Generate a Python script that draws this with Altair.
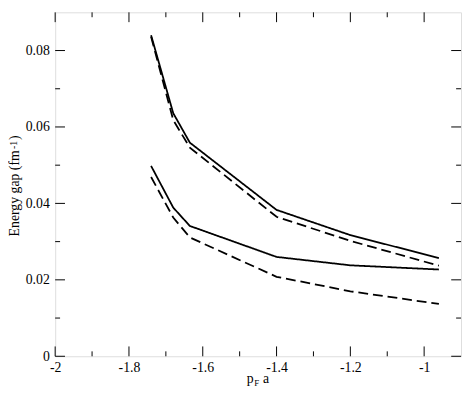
import altair as alt
import pandas as pd

# ---- data ----
x_pts = [-1.74, -1.68, -1.635, -1.4, -1.2, -0.96]
upper_solid = [0.0840, 0.0636, 0.0559, 0.0383, 0.0317, 0.0257]
upper_dashed = [0.0836, 0.0618, 0.0546, 0.0365, 0.0302, 0.0237]
lower_solid = [0.0498, 0.0389, 0.0341, 0.0260, 0.0238, 0.0227]
lower_dashed = [0.0469, 0.0363, 0.0311, 0.0208, 0.0170, 0.0137]

x_major = [-2.0, -1.8, -1.6, -1.4, -1.2, -1.0]
x_minor = [-1.9, -1.7, -1.5, -1.3, -1.1]
y_major = [0.0, 0.02, 0.04, 0.06, 0.08]
y_minor = [0.01, 0.03, 0.05, 0.07]

y_title_main = ["Energy gap (fm"]
y_title_sup = ["-1"]
y_title_end = [")"]
x_title_p = ["p"]
x_title_sub = ["F"]
x_title_a = ["a"]

# ---- layout ----
W, H = 413, 350
FONT = "'Liberation Serif', 'Times New Roman', Times, serif"

rows = []
for name, style, ys in [
    ("upper_solid", "solid", upper_solid),
    ("upper_dashed", "dashed", upper_dashed),
    ("lower_solid", "solid", lower_solid),
    ("lower_dashed", "dashed", lower_dashed),
]:
    for xv, yv in zip(x_pts, ys):
        rows.append({"x": xv, "y": yv, "curve": name, "style": style})
df = pd.DataFrame(rows)

xs = alt.Scale(domain=[-2.0, -0.9], nice=False, zero=False)
ys_ = alt.Scale(domain=[0.0, 0.09], nice=False, zero=False)

ax_x = alt.Axis(values=x_major, labelExpr="'' + datum.value", ticks=False,
                domain=False, grid=False, labelFont=FONT, labelFontSize=14,
                labelColor="black", labelPadding=4, labelFlush=False, title=None)
ax_y = alt.Axis(values=y_major, labelExpr="'' + datum.value", ticks=False,
                domain=False, grid=False, labelFont=FONT, labelFontSize=14,
                labelColor="black", labelPadding=6, labelFlush=False, title=None)

lines = alt.Chart(df).mark_line(color="black", strokeWidth=1.8).encode(
    x=alt.X("x:Q", scale=xs, axis=ax_x),
    y=alt.Y("y:Q", scale=ys_, axis=ax_y),
    detail="curve:N",
    strokeDash=alt.StrokeDash("style:N", scale=alt.Scale(domain=["solid", "dashed"],
                                                        range=[[1, 0], [10, 5]]),
                              legend=None),
)

def xticks(vals, length):
    d = pd.DataFrame({"x": vals})
    bottom = alt.Chart(d).mark_rule(color="black", strokeWidth=1).encode(
        x=alt.X("x:Q", scale=xs, axis=ax_x), y=alt.value(H), y2=alt.value(H - length))
    top = alt.Chart(d).mark_rule(color="black", strokeWidth=1).encode(
        x=alt.X("x:Q", scale=xs, axis=ax_x), y=alt.value(0), y2=alt.value(length))
    return [bottom, top]

def yticks(vals, length):
    d = pd.DataFrame({"y": vals})
    left = alt.Chart(d).mark_rule(color="black", strokeWidth=1).encode(
        y=alt.Y("y:Q", scale=ys_, axis=ax_y), x=alt.value(0), x2=alt.value(length))
    right = alt.Chart(d).mark_rule(color="black", strokeWidth=1).encode(
        y=alt.Y("y:Q", scale=ys_, axis=ax_y), x=alt.value(W), x2=alt.value(W - length))
    return [left, right]

def label(txt, x, y, size, angle=0, align="left", baseline="alphabetic"):
    kw = dict(font=FONT, fontSize=size, color="black", align=align, baseline=baseline)
    if angle:
        kw["angle"] = angle
    return alt.Chart(pd.DataFrame({"t": txt})).mark_text(**kw).encode(
        text="t:N", x=alt.value(x), y=alt.value(y))

cy = H / 2
cx = W / 2
titles = [
    label(y_title_main, -37.0, cy + 53, 14, angle=270),
    label(y_title_sup, -39.0, cy - 36, 10, angle=270),
    label(y_title_end, -37.0, cy - 45, 14, angle=270),
    label(x_title_p, cx - 11.5, H + 27, 14),
    label(x_title_sub, cx - 4.0, H + 30, 9),
    label(x_title_a, cx + 5.0, H + 27, 14),
]

chart = alt.layer(
    lines,
    *xticks(x_major, 10), *xticks(x_minor, 5),
    *yticks(y_major, 10), *yticks(y_minor, 5),
    *titles,
).properties(
    width=W, height=H,
    autosize=alt.AutoSizeParams(type="none"),
    padding={"left": 48, "top": 1, "right": 2, "bottom": 35},
).configure_view(
    stroke="black", strokeWidth=1.2
).configure(background="white")

chart.save("out.html", embed_options={"renderer": "svg", "actions": False})
